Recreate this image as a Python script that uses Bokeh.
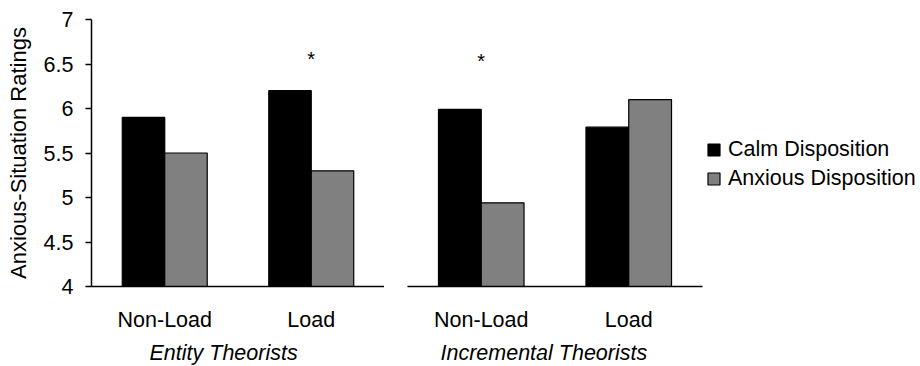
from bokeh.plotting import figure
from bokeh.layouts import row
from bokeh.models import ColumnDataSource, FactorRange, Range1d, Legend, LegendItem, Title
from bokeh.transform import dodge
from bokeh.embed import file_html
from bokeh.resources import INLINE
from bokeh.core.properties import value

# ---- data ----
conditions = ["Non-Load", "Load"]
groups = ["Entity Theorists", "Incremental Theorists"]
series = ["Calm Disposition", "Anxious Disposition"]
entity_calm = [5.9, 6.2]
entity_anxious = [5.5, 5.3]
incremental_calm = [5.99, 5.79]
incremental_anxious = [4.94, 6.10]
entity_sig = ["Load"]
incremental_sig = ["Non-Load"]
y_ticks = [4, 4.5, 5, 5.5, 6, 6.5, 7]
y_tick_labels = ["4", "4.5", "5", "5.5", "6", "6.5", "7"]
y_title = "Anxious-Situation Ratings"

FONT = "Liberation Sans"
FS = "21.5px"
CALM = "#000000"
ANX = "#808080"


def make_panel(group, calm_vals, anx_vals, sig, sig_y, first):
    p = figure(
        x_range=FactorRange(*conditions, range_padding=0),
        y_range=Range1d(4, 7),
        frame_width=293 if first else 295,
        frame_height=267,
        min_border_left=91 if first else 23,
        min_border_right=0 if first else 218,
        min_border_top=19,
        min_border_bottom=80,
        output_backend="svg",
        toolbar_location=None,
        y_axis_location="left" if first else None,
    )
    p.xgrid.visible = False
    p.ygrid.visible = False
    p.outline_line_color = None
    p.background_fill_color = "white"
    p.border_fill_color = "white"

    src = ColumnDataSource(dict(cond=conditions, calm=calm_vals, anx=anx_vals))
    r_calm = p.vbar(x=dodge("cond", -0.145, range=p.x_range), top="calm", bottom=4,
                    width=0.29, source=src, fill_color=CALM, line_color="black", line_width=1.2)
    r_anx = p.vbar(x=dodge("cond", 0.145, range=p.x_range), top="anx", bottom=4,
                   width=0.29, source=src, fill_color=ANX, line_color="black", line_width=1.2)

    # significance asterisks
    p.text(x=sig, y=[sig_y] * len(sig), text=["*"] * len(sig), text_align="center",
           text_baseline="alphabetic", text_font=value(FONT), text_font_size=value("20px"),
           text_color="black")

    xa = p.xaxis[0]
    xa.axis_line_width = 1.5
    xa.axis_line_color = "black"
    xa.major_tick_out = 0
    xa.major_tick_in = 0
    xa.minor_tick_out = 0
    xa.major_label_standoff = 21
    xa.major_label_text_font = FONT
    xa.major_label_text_font_size = FS
    xa.major_label_text_color = "black"

    if first:
        ya = p.yaxis[0]
        ya.ticker = y_ticks
        ya.major_label_overrides = {t: l for t, l in zip(y_ticks, y_tick_labels)}
        ya.axis_line_width = 1.5
        ya.axis_line_color = "black"
        ya.major_tick_out = 6
        ya.major_tick_in = 0
        ya.major_tick_line_width = 1.5
        ya.minor_tick_out = 0
        ya.minor_tick_in = 0
        ya.major_label_standoff = 12
        ya.major_label_text_font = FONT
        ya.major_label_text_font_size = FS
        ya.major_label_text_color = "black"
        ya.axis_label = y_title
        ya.axis_label_text_font = FONT
        ya.axis_label_text_font_size = "22px"
        ya.axis_label_text_font_style = "normal"
        ya.axis_label_text_color = "black"
        ya.axis_label_standoff = 10

    t = Title(text=group, align="left", offset=58 if first else 33,
              text_font=FONT, text_font_size=FS, text_font_style="italic",
              text_color="black", standoff=9)
    p.add_layout(t, "below")
    return p, r_calm, r_anx


p1, _, _ = make_panel(groups[0], entity_calm, entity_anxious, entity_sig, 6.56, True)
p2, rc, ra = make_panel(groups[1], incremental_calm, incremental_anxious, incremental_sig, 6.535, False)

legend = Legend(
    items=[LegendItem(label=series[0], renderers=[rc]), LegendItem(label=series[1], renderers=[ra])],
    location=(4, 95), orientation="vertical",
    glyph_width=15, glyph_height=15, label_height=20, spacing=4,
    padding=0, margin=0, label_standoff=7,
    border_line_color=None, background_fill_alpha=0,
    label_text_font=FONT, label_text_font_size=FS, label_text_baseline="middle",
    label_text_color="black",
)
p2.add_layout(legend, "right")

layout = row(p1, p2, spacing=0)
open("out.html", "w").write(file_html(layout, INLINE))
